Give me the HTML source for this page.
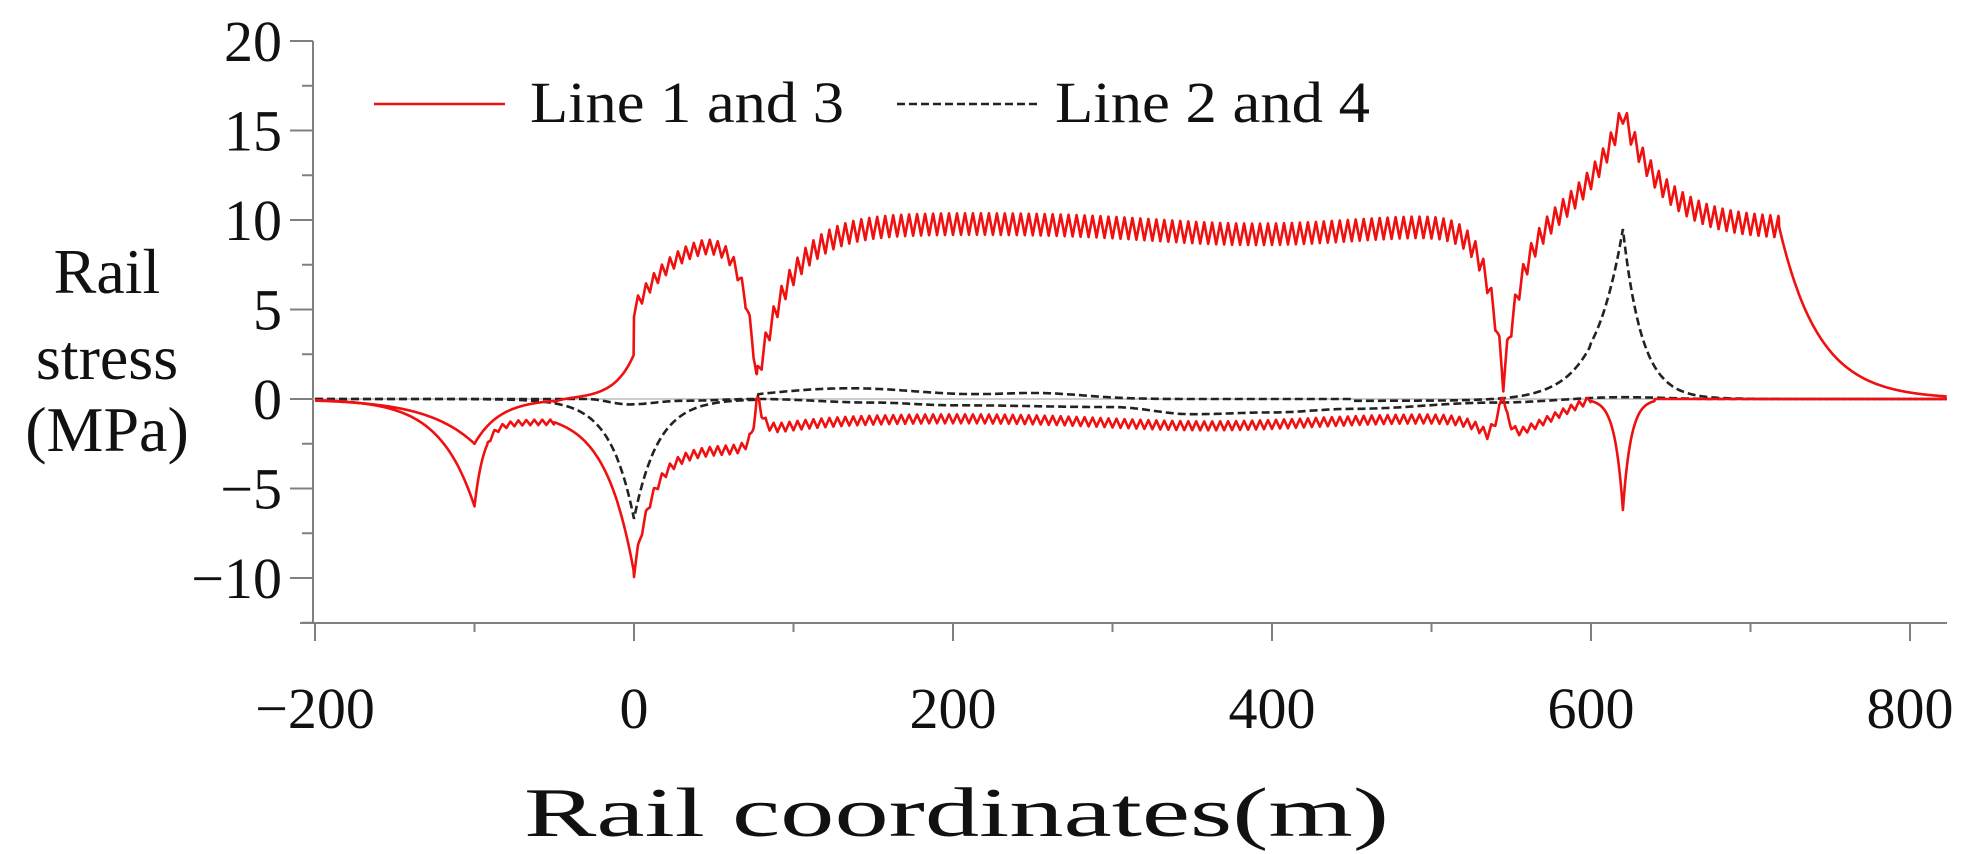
<!DOCTYPE html>
<html><head><meta charset="utf-8"><style>
html,body{margin:0;padding:0;background:#fff;}
svg{display:block;}
text{font-family:"Liberation Serif",serif;fill:#111;}
</style></head><body>
<svg id="s" width="1980" height="854" viewBox="0 0 1980 854" xmlns="http://www.w3.org/2000/svg">
<rect width="1980" height="854" fill="#fff"/>
<g id="axes" stroke="#808080" stroke-width="2" fill="none"></g>
<line x1="313" y1="399" x2="1947" y2="399" stroke="#bbb" stroke-width="1.5"/>
<path id="dA" fill="none" stroke="#222" stroke-width="2.6" stroke-dasharray="8,4"/>
<path id="dB" fill="none" stroke="#222" stroke-width="2.6" stroke-dasharray="8,4"/>
<path id="rU" fill="none" stroke="#f01010" stroke-width="2.6" stroke-linejoin="round"/>
<path id="rL" fill="none" stroke="#f01010" stroke-width="2.6" stroke-linejoin="round"/>
<g id="lab" font-size="58"></g>
<text x="107" y="293" font-size="64" text-anchor="middle">Rail</text>
<text x="107" y="379" font-size="64" text-anchor="middle">stress</text>
<text x="107" y="451" font-size="64" text-anchor="middle">(MPa)</text>
<text x="524" y="836" font-size="70" textLength="865" lengthAdjust="spacingAndGlyphs">Rail coordinates(m)</text>
<line x1="374" y1="104" x2="505" y2="104" stroke="#f01010" stroke-width="2.6"/>
<text x="530" y="122" font-size="58" textLength="314" lengthAdjust="spacingAndGlyphs">Line 1 and 3</text>
<line x1="897" y1="104" x2="1038" y2="104" stroke="#222" stroke-width="2.6" stroke-dasharray="8,4"/>
<text x="1055" y="122" font-size="58" textLength="315" lengthAdjust="spacingAndGlyphs">Line 2 and 4</text>
</svg>
<script>
var X=function(m){return 634+1.595*m;}, Y=function(v){return 399-17.9*v;};
var ax=document.getElementById('axes'), lab=document.getElementById('lab'), NS='http://www.w3.org/2000/svg';
function el(p,tag,a,t){var e=document.createElementNS(NS,tag);for(var k in a)e.setAttribute(k,a[k]);if(t)e.textContent=t;p.appendChild(e);}
el(ax,'line',{x1:313,y1:41,x2:313,y2:623});
el(ax,'line',{x1:300,y1:623,x2:1947,y2:623});
for(var v=20;v>=-12.5;v-=2.5){var maj=(v%5===0);el(ax,'line',{x1:maj?290:302,y1:Y(v),x2:313,y2:Y(v)});
 if(maj)el(lab,'text',{x:282,y:Y(v)+20,'text-anchor':'end'},(v<0?'\u2212':'')+Math.abs(v));}
for(var m=-200;m<=800;m+=100){var maj=(m%200===0);el(ax,'line',{x1:X(m),y1:623,x2:X(m),y2:maj?641:632});
 if(maj)el(lab,'text',{x:X(m),y:728,'text-anchor':'middle'},(m<0?'\u2212':'')+Math.abs(m));}
function tri(x,p){var f=((x/p)%1+1)%1;return f<0.5?(4*f-1):(3-4*f);}
function dip(x,c,d,wl,wr){var w=x<c?wl:wr;return d*Math.exp(-Math.abs(x-c)/w);}
function U(x){
 if(x<-100)return -2.5*Math.exp((x+100)/30);
 if(x<-50)return -2.5*Math.exp(-(x+100)/16);
 if(x<0)return 2.5*Math.exp(x/12)-0.2*Math.exp(-(x+50)/6);
 var b;
 if(x<545)b=5+4.8*(1-Math.exp(-x/30))-0.6*Math.exp(-Math.pow((x-390)/90,2));
 else if(x<620)b=9.5+6.5*Math.exp(-(620-x)/25);
 else if(x<718)b=9.5+6.5*Math.exp(-(x-620)/25);
 else return 9.6*Math.exp(-(x-718)/25);
 b-=dip(x,77,8.4,9,20);
 b-=dip(x,545,8.8,10,12);
 var amp=x<77?0.4:0.6;
 return b+amp*tri(x,5);
}
function L(x){
 if(x<-100)return -6*Math.exp((x+100)/22);
 if(x<-50)return -1.3-4.7*Math.exp(-(x+100)/6)+0.15*tri(x,5)*(x>-92?1:0);
 if(x<0)return -1.3-8.4*(Math.exp(x/18)-Math.exp(-50/18))/(1-Math.exp(-50/18));
 var b;
 if(x<77)b=-2.8-6.9*Math.exp(-x/12)+0.25*tri(x,5);
 else if(x<545)b=-1.05-0.8*Math.exp(-(x-77)/40)-0.45*Math.exp(-Math.pow((x-360)/90,2))-1.0*Math.exp(-Math.abs(x-535)/10)+0.25*tri(x,5);
 else if(x<600)b=-1.9*(1-Math.max(0,(x-555))/45)+0.2*tri(x,5);
 else if(x<640)b=-6.2*Math.exp(-Math.abs(x-620)/5);
 else b=0;
 b+=dip(x,77,2.8,3,3);
 if(x>500&&x<600)b+=dip(x,545,2.2,3,3);
 return Math.min(b,0.05);
}
function A(x){
 var v=-6.7*Math.exp(-Math.abs(x)/15);
 if(x>77)v+=0.6*Math.exp(-Math.pow((x-135)/70,2))+0.3*Math.exp(-Math.pow((x-255)/40,2));
 v+=dip(x,620,9.5,18,12);
 if(x>450&&x<600)v-=0.1;
 return v;
}
var kp=[[-200,0],[-30,0],[-3,-0.3],[30,-0.1],[77,0],[150,-0.2],[200,-0.35],[300,-0.45],[350,-0.85],[400,-0.75],[450,-0.55],[540,-0.2],[620,0.1],[680,0],[823,0]];
function B(x){for(var i=0;i<kp.length-1;i++){if(x<=kp[i+1][0]){var t=(x-kp[i][0])/(kp[i+1][0]-kp[i][0]);t=(1-Math.cos(Math.PI*t))/2;return kp[i][1]+t*(kp[i+1][1]-kp[i][1]);}}return 0;}
function path(f,step){var d='';for(var x=-200;x<=823;x+=step){d+=(d?'L':'M')+X(x).toFixed(1)+','+Y(f(x)).toFixed(1);}return d;}
document.getElementById('rU').setAttribute('d',path(U,0.25));
document.getElementById('rL').setAttribute('d',path(L,0.25));
document.getElementById('dA').setAttribute('d',path(A,1));
document.getElementById('dB').setAttribute('d',path(B,1));
</script>
</body></html>
